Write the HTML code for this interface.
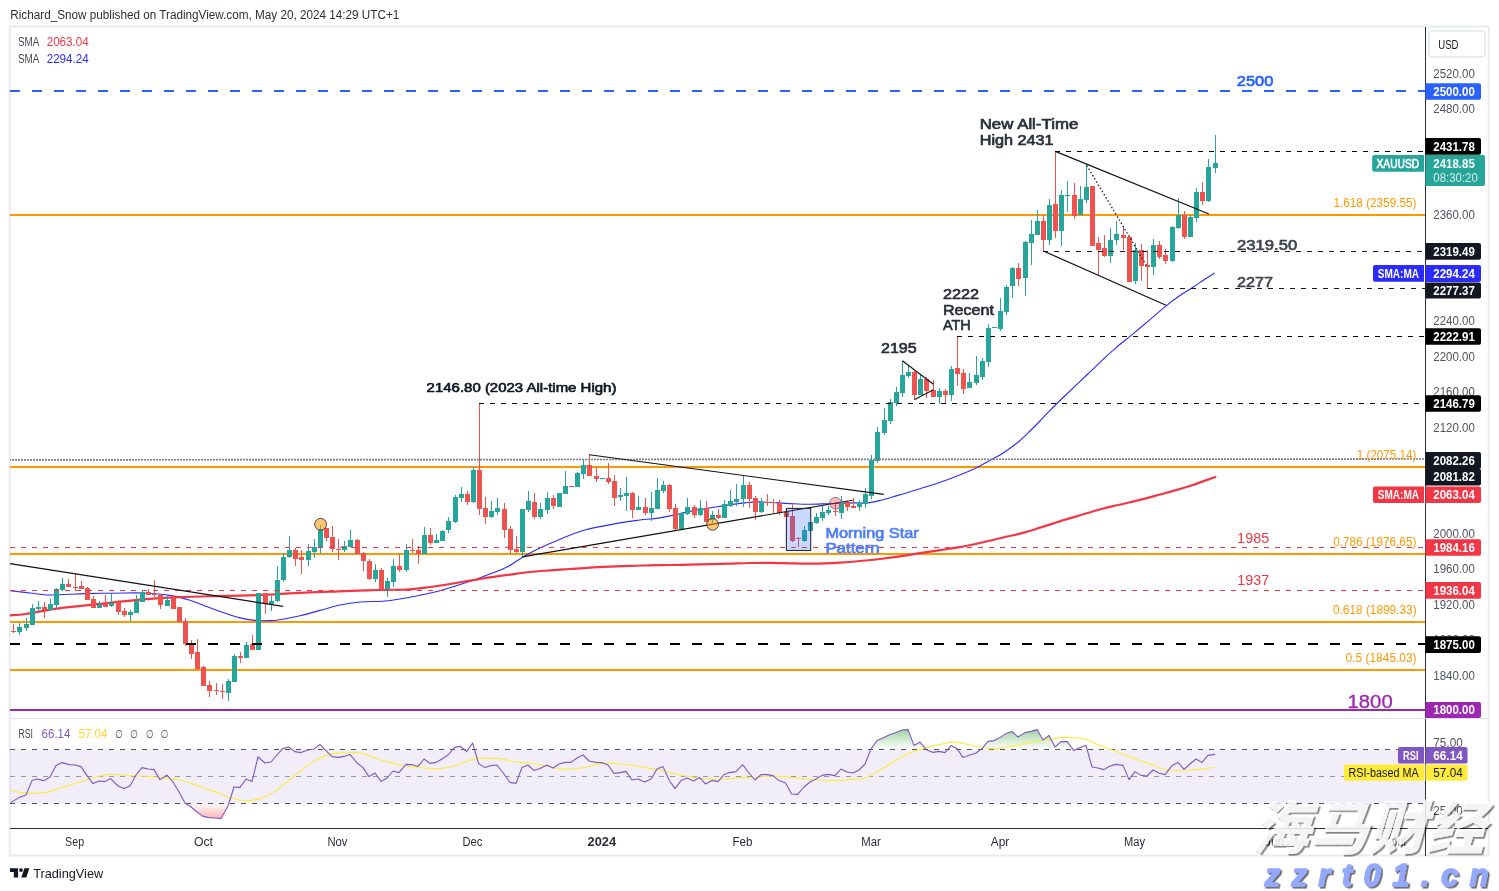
<!DOCTYPE html>
<html lang="en">
<head>
<meta charset="utf-8">
<title>XAUUSD chart - TradingView</title>
<style>
html,body{margin:0;padding:0;background:#fff;}
body{width:1499px;height:891px;overflow:hidden;font-family:'Liberation Sans', sans-serif;}
svg text{white-space:pre;}
</style>
</head>
<body>
<svg width="1499" height="891" viewBox="0 0 1499 891" font-family="'Liberation Sans', sans-serif" style="display:block">
<defs>
<linearGradient id="gOB" x1="0" y1="729" x2="0" y2="749.4" gradientUnits="userSpaceOnUse"><stop offset="0" stop-color="#4caf50" stop-opacity="0.55"/><stop offset="1" stop-color="#4caf50" stop-opacity="0"/></linearGradient>
<linearGradient id="gOS" x1="0" y1="803" x2="0" y2="819" gradientUnits="userSpaceOnUse"><stop offset="0" stop-color="#ff5252" stop-opacity="0"/><stop offset="1" stop-color="#ff5252" stop-opacity="0.45"/></linearGradient>
<clipPath id="cOB"><rect x="10" y="719" width="1415" height="30.4"/></clipPath>
<clipPath id="cOS"><rect x="10" y="803" width="1415" height="25"/></clipPath>
<clipPath id="cMain"><rect x="10" y="27" width="1415" height="691"/></clipPath>
<filter id="wmsh" x="-5%" y="-10%" width="110%" height="130%"><feDropShadow dx="2" dy="2" stdDeviation="1.1" flood-color="#000" flood-opacity="0.55"/></filter>
</defs>
<rect x="0" y="0" width="1499" height="891" fill="#fff"/>
<text x="10.3" y="18.7" font-size="12" font-weight="normal" fill="#2a2e39" text-anchor="start" textLength="389" lengthAdjust="spacingAndGlyphs">Richard_Snow published on TradingView.com, May 20, 2024 14:29 UTC+1</text>
<rect x="9.75" y="26.5" width="1479" height="829" fill="#fff" stroke="#e9ebf2" stroke-width="2"/>
<rect x="10" y="749.5" width="1415" height="54" fill="#7e57c2" fill-opacity="0.1"/>
<g clip-path="url(#cMain)">
<line x1="10" y1="215" x2="1425" y2="215" stroke="#ff9800" stroke-width="2"/>
<line x1="10" y1="467" x2="1425" y2="467" stroke="#ff9800" stroke-width="2"/>
<line x1="10" y1="554" x2="1425" y2="554" stroke="#ff9800" stroke-width="2"/>
<line x1="10" y1="622" x2="1425" y2="622" stroke="#ff9800" stroke-width="2"/>
<line x1="10" y1="670" x2="1425" y2="670" stroke="#ff9800" stroke-width="2"/>
<line x1="10" y1="710" x2="1425" y2="710" stroke="#9c27b0" stroke-width="2"/>
<path d="M10,590.7 C13.33,591.08 23.33,592.28 30,593 C36.67,593.72 43.33,594.8 50,595 C56.67,595.2 64.17,594.43 70,594.2 C75.83,593.97 77.5,593.77 85,593.6 C92.5,593.43 105.33,593.3 115,593.2 C124.67,593.1 133.83,592.63 143,593 C152.17,593.37 162.17,594.2 170,595.4 C177.83,596.6 184.33,598.52 190,600.2 C195.67,601.88 199.33,603.75 204,605.5 C208.67,607.25 212,608.63 218,610.7 C224,612.77 233.83,616.28 240,617.9 C246.17,619.52 250,619.95 255,620.4 C260,620.85 266.17,620.67 270,620.6 C273.83,620.53 273,620.82 278,620 C283,619.18 293,617.3 300,615.7 C307,614.1 313.33,612.18 320,610.4 C326.67,608.62 333.33,606.4 340,605 C346.67,603.6 352.5,602.67 360,602 C367.5,601.33 377.67,601.62 385,601 C392.33,600.38 398.17,599.27 404,598.3 C409.83,597.33 414,596.47 420,595.2 C426,593.93 431,593.23 440,590.7 C449,588.17 465.67,582.78 474,580 C482.33,577.22 484.5,576.17 490,574 C495.5,571.83 500.33,570.52 507,567 C513.67,563.48 521.17,557.52 530,552.9 C538.83,548.28 550.83,543.12 560,539.3 C569.17,535.48 575,532.73 585,530 C595,527.27 610.83,524.57 620,522.9 C629.17,521.23 633.33,520.83 640,520 C646.67,519.17 651.67,519.33 660,517.9 C668.33,516.47 680,513.32 690,511.4 C700,509.48 710.83,507.82 720,506.4 C729.17,504.98 738.33,503.65 745,502.9 C751.67,502.15 752.5,501.78 760,501.9 C767.5,502.02 781.67,503.2 790,503.6 C798.33,504 803.33,504.3 810,504.3 C816.67,504.3 822.67,503.83 830,503.6 C837.33,503.37 847.83,503 854,502.9 C860.17,502.8 862.67,503.4 867,503 C871.33,502.6 875.6,501.55 880,500.5 C884.4,499.45 886.73,498.67 893.4,496.7 C900.07,494.73 911.12,491.5 920,488.7 C928.88,485.9 937.8,483.15 946.7,479.9 C955.6,476.65 966.28,472.4 973.4,469.2 C980.52,466 984.97,463.07 989.4,460.7 C993.83,458.33 996.57,457.07 1000,455 C1003.43,452.93 1006.67,450.72 1010,448.3 C1013.33,445.88 1016.67,443.38 1020,440.5 C1023.33,437.62 1026.67,434.25 1030,431 C1033.33,427.75 1036.82,424.28 1040,421 C1043.18,417.72 1044.72,415.72 1049.1,411.3 C1053.48,406.88 1059.93,400.63 1066.3,394.5 C1072.67,388.37 1080.63,380.85 1087.3,374.5 C1093.97,368.15 1101.53,360.85 1106.3,356.4 C1111.07,351.95 1111.77,351.3 1115.9,347.8 C1120.03,344.3 1125.7,339.85 1131.1,335.4 C1136.5,330.95 1142.57,325.93 1148.3,321.1 C1154.03,316.27 1160.4,310.53 1165.5,306.4 C1170.6,302.27 1174.45,299.42 1178.9,296.3 C1183.35,293.18 1187.75,290.63 1192.2,287.7 C1196.65,284.77 1201.85,281.15 1205.6,278.7 C1209.35,276.25 1213.18,273.95 1214.7,273" fill="none" stroke="#2b2bff" stroke-width="1.1" stroke-linejoin="round"/>
<path d="M10,615.3 C12.67,615.08 18.17,615.12 26,614 C33.83,612.88 44.67,610.28 57,608.6 C69.33,606.92 85.67,605.45 100,603.9 C114.33,602.35 129.67,600.43 143,599.3 C156.33,598.17 168.17,597.63 180,597.1 C191.83,596.57 202.33,596.38 214,596.1 C225.67,595.82 240.67,595.65 250,595.4 C259.33,595.15 261.67,595.02 270,594.6 C278.33,594.18 290,593.4 300,592.9 C310,592.4 322.5,591.9 330,591.6 C337.5,591.3 336.67,591.37 345,591.1 C353.33,590.83 369.17,590.3 380,590 C390.83,589.7 401.67,589.8 410,589.3 C418.33,588.8 423.33,587.88 430,587 C436.67,586.12 443.33,585.07 450,584 C456.67,582.93 463.33,581.7 470,580.6 C476.67,579.5 483.33,578.4 490,577.4 C496.67,576.4 503.33,575.5 510,574.6 C516.67,573.7 523.33,572.7 530,572 C536.67,571.3 543.33,570.9 550,570.4 C556.67,569.9 563.33,569.47 570,569 C576.67,568.53 583.33,568 590,567.6 C596.67,567.2 603.33,566.9 610,566.6 C616.67,566.3 623.33,566 630,565.8 C636.67,565.6 643.33,565.53 650,565.4 C656.67,565.27 663.33,565.13 670,565 C676.67,564.87 683.33,564.73 690,564.6 C696.67,564.47 703.33,564.37 710,564.2 C716.67,564.03 723.33,563.8 730,563.6 C736.67,563.4 743.33,563.12 750,563 C756.67,562.88 763.33,562.85 770,562.9 C776.67,562.95 783.33,563.18 790,563.3 C796.67,563.42 804.17,563.58 810,563.6 C815.83,563.62 820,563.57 825,563.4 C830,563.23 834.17,563 840,562.6 C845.83,562.2 853.33,561.6 860,561 C866.67,560.4 873.33,559.77 880,559 C886.67,558.23 893.33,557.37 900,556.4 C906.67,555.43 913.33,554.25 920,553.2 C926.67,552.15 933.33,551.12 940,550.1 C946.67,549.08 954,548.13 960,547.1 C966,546.07 970.67,545.05 976,543.9 C981.33,542.75 988,541.15 992,540.2 C996,539.25 997.25,538.85 1000,538.2 C1002.75,537.55 1004.4,537.27 1008.5,536.3 C1012.6,535.33 1019.22,533.88 1024.6,532.4 C1029.98,530.92 1035.4,529.1 1040.8,527.4 C1046.2,525.7 1051.63,523.87 1057,522.2 C1062.37,520.53 1069.17,518.55 1073,517.4 C1076.83,516.25 1076.17,516.45 1080,515.3 C1083.83,514.15 1090.67,511.98 1096,510.5 C1101.33,509.02 1106.67,507.68 1112,506.4 C1117.33,505.12 1122.67,504.05 1128,502.8 C1133.33,501.55 1138.67,500.28 1144,498.9 C1149.33,497.52 1154.67,495.97 1160,494.5 C1165.33,493.03 1170.67,491.63 1176,490.1 C1181.33,488.57 1186.67,487.05 1192,485.3 C1197.33,483.55 1204.12,480.98 1208,479.6 C1211.88,478.22 1214.08,477.43 1215.3,477" fill="none" stroke="#f23645" stroke-width="2.2" stroke-linejoin="round" stroke-linecap="round"/>
<g shape-rendering="crispEdges">
<rect x="13" y="624" width="1" height="9" fill="#ef5350"/>
<rect x="11" y="631" width="5" height="1" fill="#ef5350"/>
<rect x="19" y="623" width="1" height="12" fill="#26a69a"/>
<rect x="17" y="627" width="5" height="5" fill="#26a69a"/>
<rect x="26" y="618" width="1" height="13" fill="#26a69a"/>
<rect x="24" y="624" width="5" height="4" fill="#26a69a"/>
<rect x="32" y="604" width="1" height="21" fill="#26a69a"/>
<rect x="30" y="608" width="5" height="17" fill="#26a69a"/>
<rect x="38" y="601" width="1" height="10" fill="#26a69a"/>
<rect x="36" y="607" width="5" height="2" fill="#26a69a"/>
<rect x="44" y="602" width="1" height="16" fill="#ef5350"/>
<rect x="42" y="607" width="5" height="3" fill="#ef5350"/>
<rect x="50" y="599" width="1" height="11" fill="#26a69a"/>
<rect x="48" y="604" width="5" height="6" fill="#26a69a"/>
<rect x="56" y="588" width="1" height="21" fill="#26a69a"/>
<rect x="54" y="589" width="5" height="16" fill="#26a69a"/>
<rect x="62" y="578" width="1" height="13" fill="#26a69a"/>
<rect x="60" y="584" width="5" height="6" fill="#26a69a"/>
<rect x="68" y="579" width="1" height="8" fill="#ef5350"/>
<rect x="66" y="584" width="5" height="3" fill="#ef5350"/>
<rect x="75" y="574" width="1" height="17" fill="#ef5350"/>
<rect x="73" y="587" width="5" height="1" fill="#ef5350"/>
<rect x="81" y="581" width="1" height="8" fill="#ef5350"/>
<rect x="79" y="586" width="5" height="3" fill="#ef5350"/>
<rect x="87" y="587" width="1" height="13" fill="#ef5350"/>
<rect x="85" y="588" width="5" height="12" fill="#ef5350"/>
<rect x="93" y="596" width="1" height="12" fill="#ef5350"/>
<rect x="91" y="599" width="5" height="9" fill="#ef5350"/>
<rect x="99" y="601" width="1" height="7" fill="#26a69a"/>
<rect x="97" y="605" width="5" height="3" fill="#26a69a"/>
<rect x="105" y="595" width="1" height="12" fill="#ef5350"/>
<rect x="103" y="604" width="5" height="3" fill="#ef5350"/>
<rect x="111" y="594" width="1" height="13" fill="#26a69a"/>
<rect x="109" y="603" width="5" height="3" fill="#26a69a"/>
<rect x="118" y="600" width="1" height="15" fill="#ef5350"/>
<rect x="116" y="602" width="5" height="10" fill="#ef5350"/>
<rect x="124" y="608" width="1" height="9" fill="#ef5350"/>
<rect x="122" y="611" width="5" height="4" fill="#ef5350"/>
<rect x="130" y="610" width="1" height="11" fill="#26a69a"/>
<rect x="128" y="612" width="5" height="3" fill="#26a69a"/>
<rect x="136" y="595" width="1" height="18" fill="#26a69a"/>
<rect x="134" y="601" width="5" height="12" fill="#26a69a"/>
<rect x="142" y="591" width="1" height="11" fill="#26a69a"/>
<rect x="140" y="592" width="5" height="10" fill="#26a69a"/>
<rect x="148" y="589" width="1" height="6" fill="#ef5350"/>
<rect x="146" y="592" width="5" height="3" fill="#ef5350"/>
<rect x="154" y="580" width="1" height="17" fill="#ef5350"/>
<rect x="152" y="594" width="5" height="1" fill="#ef5350"/>
<rect x="160" y="594" width="1" height="15" fill="#ef5350"/>
<rect x="158" y="595" width="5" height="10" fill="#ef5350"/>
<rect x="167" y="596" width="1" height="10" fill="#26a69a"/>
<rect x="165" y="600" width="5" height="6" fill="#26a69a"/>
<rect x="173" y="597" width="1" height="12" fill="#ef5350"/>
<rect x="171" y="598" width="5" height="11" fill="#ef5350"/>
<rect x="179" y="607" width="1" height="15" fill="#ef5350"/>
<rect x="177" y="607" width="5" height="15" fill="#ef5350"/>
<rect x="185" y="618" width="1" height="28" fill="#ef5350"/>
<rect x="183" y="621" width="5" height="23" fill="#ef5350"/>
<rect x="191" y="640" width="1" height="19" fill="#ef5350"/>
<rect x="189" y="644" width="5" height="10" fill="#ef5350"/>
<rect x="197" y="639" width="1" height="30" fill="#ef5350"/>
<rect x="195" y="652" width="5" height="17" fill="#ef5350"/>
<rect x="203" y="666" width="1" height="20" fill="#ef5350"/>
<rect x="201" y="667" width="5" height="19" fill="#ef5350"/>
<rect x="209" y="681" width="1" height="16" fill="#ef5350"/>
<rect x="207" y="685" width="5" height="6" fill="#ef5350"/>
<rect x="216" y="683" width="1" height="12" fill="#ef5350"/>
<rect x="214" y="690" width="5" height="1" fill="#ef5350"/>
<rect x="222" y="684" width="1" height="15" fill="#ef5350"/>
<rect x="220" y="691" width="5" height="1" fill="#ef5350"/>
<rect x="228" y="679" width="1" height="22" fill="#26a69a"/>
<rect x="226" y="681" width="5" height="12" fill="#26a69a"/>
<rect x="234" y="654" width="1" height="28" fill="#26a69a"/>
<rect x="232" y="656" width="5" height="26" fill="#26a69a"/>
<rect x="240" y="652" width="1" height="11" fill="#ef5350"/>
<rect x="238" y="656" width="5" height="2" fill="#ef5350"/>
<rect x="246" y="642" width="1" height="16" fill="#26a69a"/>
<rect x="244" y="645" width="5" height="13" fill="#26a69a"/>
<rect x="252" y="635" width="1" height="15" fill="#ef5350"/>
<rect x="250" y="644" width="5" height="6" fill="#ef5350"/>
<rect x="258" y="593" width="1" height="57" fill="#26a69a"/>
<rect x="256" y="593" width="5" height="57" fill="#26a69a"/>
<rect x="265" y="593" width="1" height="21" fill="#ef5350"/>
<rect x="263" y="593" width="5" height="11" fill="#ef5350"/>
<rect x="271" y="596" width="1" height="15" fill="#26a69a"/>
<rect x="269" y="601" width="5" height="3" fill="#26a69a"/>
<rect x="277" y="566" width="1" height="36" fill="#26a69a"/>
<rect x="275" y="580" width="5" height="21" fill="#26a69a"/>
<rect x="283" y="553" width="1" height="29" fill="#26a69a"/>
<rect x="281" y="557" width="5" height="23" fill="#26a69a"/>
<rect x="289" y="536" width="1" height="22" fill="#26a69a"/>
<rect x="287" y="550" width="5" height="7" fill="#26a69a"/>
<rect x="295" y="548" width="1" height="18" fill="#ef5350"/>
<rect x="293" y="550" width="5" height="9" fill="#ef5350"/>
<rect x="301" y="550" width="1" height="24" fill="#ef5350"/>
<rect x="299" y="557" width="5" height="3" fill="#ef5350"/>
<rect x="308" y="544" width="1" height="22" fill="#26a69a"/>
<rect x="306" y="551" width="5" height="9" fill="#26a69a"/>
<rect x="314" y="539" width="1" height="19" fill="#26a69a"/>
<rect x="312" y="547" width="5" height="5" fill="#26a69a"/>
<rect x="320" y="525" width="1" height="29" fill="#26a69a"/>
<rect x="318" y="529" width="5" height="18" fill="#26a69a"/>
<rect x="326" y="528" width="1" height="13" fill="#ef5350"/>
<rect x="324" y="528" width="5" height="10" fill="#ef5350"/>
<rect x="332" y="526" width="1" height="26" fill="#ef5350"/>
<rect x="330" y="537" width="5" height="12" fill="#ef5350"/>
<rect x="338" y="539" width="1" height="21" fill="#ef5350"/>
<rect x="336" y="549" width="5" height="1" fill="#ef5350"/>
<rect x="344" y="541" width="1" height="11" fill="#26a69a"/>
<rect x="342" y="546" width="5" height="4" fill="#26a69a"/>
<rect x="350" y="530" width="1" height="17" fill="#26a69a"/>
<rect x="348" y="540" width="5" height="7" fill="#26a69a"/>
<rect x="357" y="539" width="1" height="15" fill="#ef5350"/>
<rect x="355" y="540" width="5" height="14" fill="#ef5350"/>
<rect x="363" y="552" width="1" height="19" fill="#ef5350"/>
<rect x="361" y="553" width="5" height="8" fill="#ef5350"/>
<rect x="369" y="559" width="1" height="21" fill="#ef5350"/>
<rect x="367" y="561" width="5" height="18" fill="#ef5350"/>
<rect x="375" y="564" width="1" height="18" fill="#26a69a"/>
<rect x="373" y="570" width="5" height="9" fill="#26a69a"/>
<rect x="381" y="568" width="1" height="23" fill="#ef5350"/>
<rect x="379" y="570" width="5" height="19" fill="#ef5350"/>
<rect x="387" y="578" width="1" height="19" fill="#26a69a"/>
<rect x="385" y="581" width="5" height="8" fill="#26a69a"/>
<rect x="393" y="559" width="1" height="28" fill="#26a69a"/>
<rect x="391" y="566" width="5" height="16" fill="#26a69a"/>
<rect x="399" y="554" width="1" height="18" fill="#ef5350"/>
<rect x="397" y="566" width="5" height="4" fill="#ef5350"/>
<rect x="406" y="544" width="1" height="28" fill="#26a69a"/>
<rect x="404" y="550" width="5" height="20" fill="#26a69a"/>
<rect x="412" y="539" width="1" height="14" fill="#ef5350"/>
<rect x="410" y="550" width="5" height="1" fill="#ef5350"/>
<rect x="418" y="546" width="1" height="18" fill="#ef5350"/>
<rect x="416" y="550" width="5" height="4" fill="#ef5350"/>
<rect x="424" y="527" width="1" height="27" fill="#26a69a"/>
<rect x="422" y="535" width="5" height="19" fill="#26a69a"/>
<rect x="430" y="528" width="1" height="17" fill="#ef5350"/>
<rect x="428" y="535" width="5" height="8" fill="#ef5350"/>
<rect x="436" y="534" width="1" height="9" fill="#26a69a"/>
<rect x="434" y="540" width="5" height="3" fill="#26a69a"/>
<rect x="442" y="530" width="1" height="11" fill="#26a69a"/>
<rect x="440" y="531" width="5" height="10" fill="#26a69a"/>
<rect x="448" y="517" width="1" height="16" fill="#26a69a"/>
<rect x="446" y="521" width="5" height="9" fill="#26a69a"/>
<rect x="455" y="495" width="1" height="28" fill="#26a69a"/>
<rect x="453" y="497" width="5" height="25" fill="#26a69a"/>
<rect x="461" y="487" width="1" height="15" fill="#26a69a"/>
<rect x="459" y="494" width="5" height="4" fill="#26a69a"/>
<rect x="467" y="491" width="1" height="14" fill="#ef5350"/>
<rect x="465" y="494" width="5" height="8" fill="#ef5350"/>
<rect x="473" y="466" width="1" height="37" fill="#26a69a"/>
<rect x="471" y="470" width="5" height="32" fill="#26a69a"/>
<rect x="479" y="403" width="1" height="112" fill="#ef5350"/>
<rect x="477" y="470" width="5" height="39" fill="#ef5350"/>
<rect x="485" y="497" width="1" height="27" fill="#ef5350"/>
<rect x="483" y="508" width="5" height="9" fill="#ef5350"/>
<rect x="491" y="501" width="1" height="17" fill="#26a69a"/>
<rect x="489" y="511" width="5" height="6" fill="#26a69a"/>
<rect x="497" y="498" width="1" height="17" fill="#26a69a"/>
<rect x="495" y="508" width="5" height="4" fill="#26a69a"/>
<rect x="504" y="503" width="1" height="35" fill="#ef5350"/>
<rect x="502" y="509" width="5" height="21" fill="#ef5350"/>
<rect x="510" y="526" width="1" height="28" fill="#ef5350"/>
<rect x="508" y="529" width="5" height="21" fill="#ef5350"/>
<rect x="516" y="536" width="1" height="17" fill="#ef5350"/>
<rect x="514" y="549" width="5" height="3" fill="#ef5350"/>
<rect x="522" y="509" width="1" height="48" fill="#26a69a"/>
<rect x="520" y="509" width="5" height="43" fill="#26a69a"/>
<rect x="528" y="491" width="1" height="21" fill="#26a69a"/>
<rect x="526" y="501" width="5" height="9" fill="#26a69a"/>
<rect x="534" y="493" width="1" height="26" fill="#ef5350"/>
<rect x="532" y="502" width="5" height="15" fill="#ef5350"/>
<rect x="540" y="503" width="1" height="16" fill="#26a69a"/>
<rect x="538" y="509" width="5" height="8" fill="#26a69a"/>
<rect x="547" y="492" width="1" height="22" fill="#26a69a"/>
<rect x="545" y="498" width="5" height="12" fill="#26a69a"/>
<rect x="553" y="495" width="1" height="14" fill="#ef5350"/>
<rect x="551" y="498" width="5" height="8" fill="#ef5350"/>
<rect x="559" y="493" width="1" height="14" fill="#26a69a"/>
<rect x="557" y="493" width="5" height="14" fill="#26a69a"/>
<rect x="565" y="471" width="1" height="23" fill="#26a69a"/>
<rect x="563" y="486" width="5" height="8" fill="#26a69a"/>
<rect x="571" y="486" width="1" height="1" fill="#ef5350"/>
<rect x="569" y="486" width="5" height="1" fill="#ef5350"/>
<rect x="577" y="472" width="1" height="15" fill="#26a69a"/>
<rect x="575" y="473" width="5" height="14" fill="#26a69a"/>
<rect x="583" y="459" width="1" height="20" fill="#26a69a"/>
<rect x="581" y="465" width="5" height="9" fill="#26a69a"/>
<rect x="589" y="454" width="1" height="22" fill="#ef5350"/>
<rect x="587" y="465" width="5" height="11" fill="#ef5350"/>
<rect x="596" y="467" width="1" height="15" fill="#ef5350"/>
<rect x="594" y="476" width="5" height="3" fill="#ef5350"/>
<rect x="602" y="478" width="1" height="1" fill="#26a69a"/>
<rect x="600" y="478" width="5" height="1" fill="#26a69a"/>
<rect x="608" y="463" width="1" height="21" fill="#ef5350"/>
<rect x="606" y="478" width="5" height="4" fill="#ef5350"/>
<rect x="614" y="475" width="1" height="31" fill="#ef5350"/>
<rect x="612" y="481" width="5" height="17" fill="#ef5350"/>
<rect x="620" y="488" width="1" height="13" fill="#26a69a"/>
<rect x="618" y="495" width="5" height="2" fill="#26a69a"/>
<rect x="626" y="477" width="1" height="34" fill="#26a69a"/>
<rect x="624" y="493" width="5" height="3" fill="#26a69a"/>
<rect x="632" y="492" width="1" height="26" fill="#ef5350"/>
<rect x="630" y="493" width="5" height="17" fill="#ef5350"/>
<rect x="638" y="496" width="1" height="14" fill="#26a69a"/>
<rect x="636" y="507" width="5" height="3" fill="#26a69a"/>
<rect x="645" y="498" width="1" height="17" fill="#ef5350"/>
<rect x="643" y="507" width="5" height="6" fill="#ef5350"/>
<rect x="651" y="492" width="1" height="29" fill="#26a69a"/>
<rect x="649" y="508" width="5" height="5" fill="#26a69a"/>
<rect x="657" y="478" width="1" height="31" fill="#26a69a"/>
<rect x="655" y="490" width="5" height="19" fill="#26a69a"/>
<rect x="663" y="481" width="1" height="12" fill="#26a69a"/>
<rect x="661" y="485" width="5" height="6" fill="#26a69a"/>
<rect x="669" y="484" width="1" height="28" fill="#ef5350"/>
<rect x="667" y="485" width="5" height="24" fill="#ef5350"/>
<rect x="675" y="504" width="1" height="27" fill="#ef5350"/>
<rect x="673" y="508" width="5" height="21" fill="#ef5350"/>
<rect x="681" y="513" width="1" height="16" fill="#26a69a"/>
<rect x="679" y="513" width="5" height="16" fill="#26a69a"/>
<rect x="687" y="498" width="1" height="17" fill="#26a69a"/>
<rect x="685" y="507" width="5" height="7" fill="#26a69a"/>
<rect x="694" y="505" width="1" height="13" fill="#ef5350"/>
<rect x="692" y="507" width="5" height="8" fill="#ef5350"/>
<rect x="700" y="500" width="1" height="16" fill="#26a69a"/>
<rect x="698" y="508" width="5" height="7" fill="#26a69a"/>
<rect x="706" y="501" width="1" height="21" fill="#ef5350"/>
<rect x="704" y="508" width="5" height="14" fill="#ef5350"/>
<rect x="712" y="511" width="1" height="12" fill="#26a69a"/>
<rect x="710" y="515" width="5" height="5" fill="#26a69a"/>
<rect x="718" y="509" width="1" height="10" fill="#ef5350"/>
<rect x="716" y="515" width="5" height="3" fill="#ef5350"/>
<rect x="724" y="500" width="1" height="18" fill="#26a69a"/>
<rect x="722" y="504" width="5" height="14" fill="#26a69a"/>
<rect x="730" y="490" width="1" height="17" fill="#26a69a"/>
<rect x="728" y="501" width="5" height="5" fill="#26a69a"/>
<rect x="736" y="484" width="1" height="22" fill="#26a69a"/>
<rect x="734" y="499" width="5" height="3" fill="#26a69a"/>
<rect x="743" y="476" width="1" height="31" fill="#26a69a"/>
<rect x="741" y="485" width="5" height="14" fill="#26a69a"/>
<rect x="749" y="482" width="1" height="26" fill="#ef5350"/>
<rect x="747" y="485" width="5" height="14" fill="#ef5350"/>
<rect x="755" y="496" width="1" height="24" fill="#ef5350"/>
<rect x="753" y="498" width="5" height="14" fill="#ef5350"/>
<rect x="761" y="498" width="1" height="15" fill="#26a69a"/>
<rect x="759" y="502" width="5" height="10" fill="#26a69a"/>
<rect x="767" y="494" width="1" height="12" fill="#ef5350"/>
<rect x="765" y="502" width="5" height="1" fill="#ef5350"/>
<rect x="773" y="499" width="1" height="14" fill="#ef5350"/>
<rect x="771" y="502" width="5" height="1" fill="#ef5350"/>
<rect x="779" y="500" width="1" height="15" fill="#ef5350"/>
<rect x="777" y="503" width="5" height="10" fill="#ef5350"/>
<rect x="786" y="511" width="1" height="6" fill="#ef5350"/>
<rect x="784" y="512" width="5" height="5" fill="#ef5350"/>
<rect x="792" y="504" width="1" height="38" fill="#ef5350"/>
<rect x="790" y="516" width="5" height="25" fill="#ef5350"/>
<rect x="798" y="537" width="1" height="10" fill="#ef5350"/>
<rect x="796" y="538" width="5" height="1" fill="#ef5350"/>
<rect x="804" y="526" width="1" height="16" fill="#26a69a"/>
<rect x="802" y="530" width="5" height="11" fill="#26a69a"/>
<rect x="810" y="522" width="1" height="9" fill="#26a69a"/>
<rect x="808" y="522" width="5" height="9" fill="#26a69a"/>
<rect x="816" y="513" width="1" height="11" fill="#26a69a"/>
<rect x="814" y="517" width="5" height="6" fill="#26a69a"/>
<rect x="822" y="506" width="1" height="15" fill="#26a69a"/>
<rect x="820" y="512" width="5" height="6" fill="#26a69a"/>
<rect x="828" y="506" width="1" height="9" fill="#26a69a"/>
<rect x="826" y="510" width="5" height="3" fill="#26a69a"/>
<rect x="835" y="502" width="1" height="14" fill="#ef5350"/>
<rect x="833" y="511" width="5" height="1" fill="#ef5350"/>
<rect x="841" y="496" width="1" height="23" fill="#26a69a"/>
<rect x="839" y="503" width="5" height="10" fill="#26a69a"/>
<rect x="847" y="501" width="1" height="10" fill="#ef5350"/>
<rect x="845" y="502" width="5" height="5" fill="#ef5350"/>
<rect x="853" y="498" width="1" height="10" fill="#ef5350"/>
<rect x="851" y="506" width="5" height="2" fill="#ef5350"/>
<rect x="859" y="500" width="1" height="11" fill="#26a69a"/>
<rect x="857" y="503" width="5" height="4" fill="#26a69a"/>
<rect x="865" y="488" width="1" height="20" fill="#26a69a"/>
<rect x="863" y="494" width="5" height="10" fill="#26a69a"/>
<rect x="871" y="455" width="1" height="44" fill="#26a69a"/>
<rect x="869" y="460" width="5" height="36" fill="#26a69a"/>
<rect x="877" y="427" width="1" height="36" fill="#26a69a"/>
<rect x="875" y="432" width="5" height="29" fill="#26a69a"/>
<rect x="884" y="408" width="1" height="27" fill="#26a69a"/>
<rect x="882" y="420" width="5" height="13" fill="#26a69a"/>
<rect x="890" y="399" width="1" height="25" fill="#26a69a"/>
<rect x="888" y="402" width="5" height="19" fill="#26a69a"/>
<rect x="896" y="387" width="1" height="19" fill="#26a69a"/>
<rect x="894" y="392" width="5" height="11" fill="#26a69a"/>
<rect x="902" y="361" width="1" height="36" fill="#26a69a"/>
<rect x="900" y="375" width="5" height="18" fill="#26a69a"/>
<rect x="908" y="366" width="1" height="12" fill="#26a69a"/>
<rect x="906" y="372" width="5" height="4" fill="#26a69a"/>
<rect x="914" y="371" width="1" height="28" fill="#ef5350"/>
<rect x="912" y="372" width="5" height="23" fill="#ef5350"/>
<rect x="920" y="375" width="1" height="20" fill="#26a69a"/>
<rect x="918" y="379" width="5" height="16" fill="#26a69a"/>
<rect x="926" y="377" width="1" height="21" fill="#ef5350"/>
<rect x="924" y="379" width="5" height="12" fill="#ef5350"/>
<rect x="933" y="380" width="1" height="17" fill="#ef5350"/>
<rect x="931" y="390" width="5" height="7" fill="#ef5350"/>
<rect x="939" y="388" width="1" height="16" fill="#26a69a"/>
<rect x="937" y="391" width="5" height="6" fill="#26a69a"/>
<rect x="945" y="389" width="1" height="14" fill="#ef5350"/>
<rect x="943" y="391" width="5" height="4" fill="#ef5350"/>
<rect x="951" y="366" width="1" height="35" fill="#26a69a"/>
<rect x="949" y="369" width="5" height="26" fill="#26a69a"/>
<rect x="957" y="337" width="1" height="49" fill="#ef5350"/>
<rect x="955" y="368" width="5" height="6" fill="#ef5350"/>
<rect x="963" y="369" width="1" height="25" fill="#ef5350"/>
<rect x="961" y="373" width="5" height="16" fill="#ef5350"/>
<rect x="969" y="373" width="1" height="15" fill="#26a69a"/>
<rect x="967" y="382" width="5" height="6" fill="#26a69a"/>
<rect x="976" y="356" width="1" height="29" fill="#26a69a"/>
<rect x="974" y="375" width="5" height="8" fill="#26a69a"/>
<rect x="982" y="358" width="1" height="22" fill="#26a69a"/>
<rect x="980" y="361" width="5" height="16" fill="#26a69a"/>
<rect x="988" y="324" width="1" height="43" fill="#26a69a"/>
<rect x="986" y="328" width="5" height="34" fill="#26a69a"/>
<rect x="994" y="327" width="1" height="1" fill="#26a69a"/>
<rect x="992" y="327" width="5" height="1" fill="#26a69a"/>
<rect x="1000" y="298" width="1" height="33" fill="#26a69a"/>
<rect x="998" y="311" width="5" height="18" fill="#26a69a"/>
<rect x="1006" y="285" width="1" height="30" fill="#26a69a"/>
<rect x="1004" y="287" width="5" height="25" fill="#26a69a"/>
<rect x="1012" y="267" width="1" height="31" fill="#26a69a"/>
<rect x="1010" y="268" width="5" height="18" fill="#26a69a"/>
<rect x="1018" y="263" width="1" height="23" fill="#ef5350"/>
<rect x="1016" y="268" width="5" height="11" fill="#ef5350"/>
<rect x="1025" y="241" width="1" height="55" fill="#26a69a"/>
<rect x="1023" y="242" width="5" height="36" fill="#26a69a"/>
<rect x="1031" y="220" width="1" height="45" fill="#26a69a"/>
<rect x="1029" y="234" width="5" height="9" fill="#26a69a"/>
<rect x="1037" y="210" width="1" height="25" fill="#26a69a"/>
<rect x="1035" y="221" width="5" height="14" fill="#26a69a"/>
<rect x="1043" y="215" width="1" height="36" fill="#ef5350"/>
<rect x="1041" y="221" width="5" height="19" fill="#ef5350"/>
<rect x="1049" y="199" width="1" height="46" fill="#26a69a"/>
<rect x="1047" y="205" width="5" height="35" fill="#26a69a"/>
<rect x="1055" y="151" width="1" height="87" fill="#ef5350"/>
<rect x="1053" y="204" width="5" height="27" fill="#ef5350"/>
<rect x="1061" y="190" width="1" height="56" fill="#26a69a"/>
<rect x="1059" y="195" width="5" height="36" fill="#26a69a"/>
<rect x="1067" y="181" width="1" height="31" fill="#26a69a"/>
<rect x="1065" y="195" width="5" height="1" fill="#26a69a"/>
<rect x="1074" y="183" width="1" height="36" fill="#ef5350"/>
<rect x="1072" y="195" width="5" height="21" fill="#ef5350"/>
<rect x="1080" y="186" width="1" height="29" fill="#26a69a"/>
<rect x="1078" y="199" width="5" height="16" fill="#26a69a"/>
<rect x="1086" y="164" width="1" height="39" fill="#26a69a"/>
<rect x="1084" y="187" width="5" height="13" fill="#26a69a"/>
<rect x="1092" y="186" width="1" height="60" fill="#ef5350"/>
<rect x="1090" y="186" width="5" height="60" fill="#ef5350"/>
<rect x="1098" y="237" width="1" height="38" fill="#ef5350"/>
<rect x="1096" y="243" width="5" height="7" fill="#ef5350"/>
<rect x="1104" y="235" width="1" height="22" fill="#ef5350"/>
<rect x="1102" y="248" width="5" height="8" fill="#ef5350"/>
<rect x="1110" y="228" width="1" height="35" fill="#26a69a"/>
<rect x="1108" y="240" width="5" height="16" fill="#26a69a"/>
<rect x="1116" y="221" width="1" height="24" fill="#26a69a"/>
<rect x="1114" y="234" width="5" height="6" fill="#26a69a"/>
<rect x="1123" y="226" width="1" height="24" fill="#ef5350"/>
<rect x="1121" y="235" width="5" height="3" fill="#ef5350"/>
<rect x="1129" y="236" width="1" height="46" fill="#ef5350"/>
<rect x="1127" y="237" width="5" height="45" fill="#ef5350"/>
<rect x="1135" y="243" width="1" height="41" fill="#26a69a"/>
<rect x="1133" y="250" width="5" height="31" fill="#26a69a"/>
<rect x="1141" y="244" width="1" height="37" fill="#ef5350"/>
<rect x="1139" y="250" width="5" height="16" fill="#ef5350"/>
<rect x="1147" y="250" width="1" height="38" fill="#ef5350"/>
<rect x="1145" y="265" width="5" height="2" fill="#ef5350"/>
<rect x="1153" y="239" width="1" height="36" fill="#26a69a"/>
<rect x="1151" y="245" width="5" height="22" fill="#26a69a"/>
<rect x="1159" y="241" width="1" height="18" fill="#ef5350"/>
<rect x="1157" y="245" width="5" height="12" fill="#ef5350"/>
<rect x="1165" y="249" width="1" height="15" fill="#ef5350"/>
<rect x="1163" y="255" width="5" height="6" fill="#ef5350"/>
<rect x="1172" y="226" width="1" height="36" fill="#26a69a"/>
<rect x="1170" y="227" width="5" height="34" fill="#26a69a"/>
<rect x="1178" y="198" width="1" height="31" fill="#26a69a"/>
<rect x="1176" y="215" width="5" height="13" fill="#26a69a"/>
<rect x="1184" y="211" width="1" height="28" fill="#ef5350"/>
<rect x="1182" y="215" width="5" height="22" fill="#ef5350"/>
<rect x="1190" y="215" width="1" height="22" fill="#26a69a"/>
<rect x="1188" y="217" width="5" height="20" fill="#26a69a"/>
<rect x="1196" y="188" width="1" height="34" fill="#26a69a"/>
<rect x="1194" y="192" width="5" height="26" fill="#26a69a"/>
<rect x="1202" y="182" width="1" height="23" fill="#ef5350"/>
<rect x="1200" y="192" width="5" height="9" fill="#ef5350"/>
<rect x="1208" y="159" width="1" height="43" fill="#26a69a"/>
<rect x="1206" y="167" width="5" height="34" fill="#26a69a"/>
<rect x="1215" y="135" width="1" height="38" fill="#26a69a"/>
<rect x="1213" y="163" width="5" height="5" fill="#26a69a"/>
</g>
<line x1="9" y1="459.85" x2="1425" y2="459" stroke="#7b7e88" stroke-width="1.7" stroke-dasharray="2 1"/>
<line x1="10" y1="547.5" x2="1425" y2="547.5" stroke="#f23645" stroke-width="1" stroke-dasharray="5 6"/>
<line x1="10" y1="590.5" x2="1425" y2="590.5" stroke="#f23645" stroke-width="1" stroke-dasharray="5 6"/>
<line x1="1055" y1="151.5" x2="1425" y2="151.5" stroke="#000" stroke-width="1" stroke-dasharray="5 6"/>
<line x1="1043" y1="251.5" x2="1425" y2="251.5" stroke="#131722" stroke-width="1" stroke-dasharray="5 6"/>
<line x1="1147" y1="288.5" x2="1425" y2="288.5" stroke="#131722" stroke-width="1" stroke-dasharray="5 6"/>
<line x1="957" y1="336.5" x2="1425" y2="336.5" stroke="#000" stroke-width="1" stroke-dasharray="5 6"/>
<line x1="479" y1="403.5" x2="1425" y2="403.5" stroke="#000" stroke-width="1" stroke-dasharray="5 6"/>
<line x1="10" y1="91" x2="1425" y2="91" stroke="#2962ff" stroke-width="2" stroke-dasharray="10 12"/>
<line x1="10" y1="644" x2="1425" y2="644" stroke="#000" stroke-width="2" stroke-dasharray="10 12"/>
<line x1="10" y1="563.6" x2="283.1" y2="606.4" stroke="#111" stroke-width="1.1"/>
<line x1="589.4" y1="454.7" x2="883.8" y2="494.4" stroke="#111" stroke-width="1.1"/>
<line x1="522.4" y1="556.9" x2="852.7" y2="500.2" stroke="#111" stroke-width="1.1"/>
<line x1="902.4" y1="360.7" x2="933.4" y2="384.3" stroke="#111" stroke-width="1.1"/>
<line x1="914.3" y1="399.7" x2="933.4" y2="389.7" stroke="#111" stroke-width="1.1"/>
<line x1="1055.4" y1="151.4" x2="1208.9" y2="214" stroke="#111" stroke-width="1.2"/>
<line x1="1043.4" y1="251" x2="1166" y2="305.3" stroke="#111" stroke-width="1.2"/>
<line x1="1086.8" y1="165.5" x2="1146.4" y2="265.3" stroke="#222" stroke-width="1.3" stroke-dasharray="1.5 2.2"/>
<rect x="786.4" y="508.4" width="24.3" height="42.1" fill="#2962ff" fill-opacity="0.25" stroke="#2a2e39" stroke-width="1.1"/>
<circle cx="320.6" cy="524.3" r="5.9" fill="#ff9800" fill-opacity="0.55" stroke="#434651" stroke-width="1"/>
<circle cx="712.6" cy="524.3" r="5.9" fill="#ff9800" fill-opacity="0.55" stroke="#434651" stroke-width="1"/>
<circle cx="835.5" cy="503.2" r="5.9" fill="#f23645" fill-opacity="0.35" stroke="#787b86" stroke-width="1"/>
<text x="426.6" y="391.6" font-size="13" font-weight="normal" fill="#131722" text-anchor="start" textLength="189.8" lengthAdjust="spacingAndGlyphs" stroke="#131722" stroke-width="0.65" stroke-linejoin="round">2146.80 (2023 All-time High)</text>
<text x="881" y="353.3" font-size="14" font-weight="normal" fill="#2a2e39" text-anchor="start" textLength="35.7" lengthAdjust="spacingAndGlyphs" stroke="#2a2e39" stroke-width="0.65" stroke-linejoin="round">2195</text>
<text x="942.9" y="298.6" font-size="14" font-weight="normal" fill="#2a2e39" text-anchor="start" textLength="36.1" lengthAdjust="spacingAndGlyphs" stroke="#2a2e39" stroke-width="0.65" stroke-linejoin="round">2222</text>
<text x="942.9" y="314.6" font-size="14" font-weight="normal" fill="#2a2e39" text-anchor="start" textLength="51" lengthAdjust="spacingAndGlyphs" stroke="#2a2e39" stroke-width="0.65" stroke-linejoin="round">Recent</text>
<text x="942.9" y="330.3" font-size="14" font-weight="normal" fill="#2a2e39" text-anchor="start" textLength="27.9" lengthAdjust="spacingAndGlyphs" stroke="#2a2e39" stroke-width="0.65" stroke-linejoin="round">ATH</text>
<text x="979.7" y="128.6" font-size="14" font-weight="normal" fill="#2a2e39" text-anchor="start" textLength="98.6" lengthAdjust="spacingAndGlyphs" stroke="#2a2e39" stroke-width="0.65" stroke-linejoin="round">New All-Time</text>
<text x="979.7" y="144.6" font-size="14" font-weight="normal" fill="#2a2e39" text-anchor="start" textLength="73.9" lengthAdjust="spacingAndGlyphs" stroke="#2a2e39" stroke-width="0.65" stroke-linejoin="round">High 2431</text>
<text x="1236.8" y="86.4" font-size="14.5" font-weight="normal" fill="#2962ff" text-anchor="start" textLength="36.5" lengthAdjust="spacingAndGlyphs" stroke="#2962ff" stroke-width="0.65" stroke-linejoin="round">2500</text>
<text x="1237.1" y="249.6" font-size="14" font-weight="normal" fill="#434651" text-anchor="start" textLength="60.1" lengthAdjust="spacingAndGlyphs" stroke="#434651" stroke-width="0.65" stroke-linejoin="round">2319.50</text>
<text x="1237.1" y="286.8" font-size="14" font-weight="normal" fill="#434651" text-anchor="start" textLength="36" lengthAdjust="spacingAndGlyphs" stroke="#434651" stroke-width="0.65" stroke-linejoin="round">2277</text>
<text x="1237.1" y="542.9" font-size="14" font-weight="normal" fill="#f23645" text-anchor="start" textLength="32.2" lengthAdjust="spacingAndGlyphs">1985</text>
<text x="1237.2" y="585.4" font-size="14" font-weight="normal" fill="#f23645" text-anchor="start" textLength="32" lengthAdjust="spacingAndGlyphs">1937</text>
<text x="1347.5" y="707.9" font-size="17.5" font-weight="normal" fill="#9c27b0" text-anchor="start" textLength="45.2" lengthAdjust="spacingAndGlyphs" stroke="#9c27b0" stroke-width="0.3">1800</text>
<text x="825.4" y="538" font-size="14" font-weight="normal" fill="#4c7dff" text-anchor="start" textLength="93.4" lengthAdjust="spacingAndGlyphs" stroke="#4c7dff" stroke-width="0.65" stroke-linejoin="round">Morning Star</text>
<text x="825.4" y="553.4" font-size="14" font-weight="normal" fill="#4c7dff" text-anchor="start" textLength="54.3" lengthAdjust="spacingAndGlyphs" stroke="#4c7dff" stroke-width="0.65" stroke-linejoin="round">Pattern</text>
<text x="1333.5" y="207.1" font-size="12" font-weight="normal" fill="#ff9800" text-anchor="start" textLength="82.9" lengthAdjust="spacingAndGlyphs">1.618 (2359.55)</text>
<text x="1356.8" y="458.6" font-size="12" font-weight="normal" fill="#ff9800" text-anchor="start" textLength="59.6" lengthAdjust="spacingAndGlyphs">1 (2075.14)</text>
<text x="1333.2" y="546.1" font-size="12" font-weight="normal" fill="#ff9800" text-anchor="start" textLength="83.2" lengthAdjust="spacingAndGlyphs">0.786 (1976.65)</text>
<text x="1333" y="614.1" font-size="12" font-weight="normal" fill="#ff9800" text-anchor="start" textLength="83.6" lengthAdjust="spacingAndGlyphs">0.618 (1899.33)</text>
<text x="1345.6" y="661.8" font-size="12" font-weight="normal" fill="#ff9800" text-anchor="start" textLength="71" lengthAdjust="spacingAndGlyphs">0.5 (1845.03)</text>
</g>
<text x="18" y="46" font-size="12" font-weight="normal" fill="#434651" text-anchor="start" textLength="21.4" lengthAdjust="spacingAndGlyphs">SMA</text>
<text x="46.7" y="46" font-size="12" font-weight="normal" fill="#f23645" text-anchor="start" textLength="42" lengthAdjust="spacingAndGlyphs">2063.04</text>
<text x="18" y="62.8" font-size="12" font-weight="normal" fill="#434651" text-anchor="start" textLength="21.4" lengthAdjust="spacingAndGlyphs">SMA</text>
<text x="46.7" y="62.8" font-size="12" font-weight="normal" fill="#2b2bff" text-anchor="start" textLength="42" lengthAdjust="spacingAndGlyphs">2294.24</text>
<line x1="10" y1="749.5" x2="1425" y2="749.5" stroke="#50535e" stroke-width="1" stroke-dasharray="5 6"/>
<line x1="10" y1="776.5" x2="1425" y2="776.5" stroke="#9598a1" stroke-width="1" stroke-dasharray="5 6"/>
<line x1="10" y1="803.5" x2="1425" y2="803.5" stroke="#50535e" stroke-width="1" stroke-dasharray="5 6"/>
<polygon points="11,802.4 19,797.6 26,795 32,780.6 37,779 44,780.6 50,777 56,765.6 62,762.6 69,764.6 75,765 81,766.6 87,775.6 93,783.6 99,781 105,781.6 110.6,778.6 118,786 124,788.6 130,786 136,775 142,767.6 148,769 154,769.6 160,779.6 167,775 173,782 179,792 185,803 191,807 197,812 203,816.4 209,817.6 215,818 221,818.6 228,806 234,787 240,787.4 246,779 252,781.6 258,757 265,763 271,762 277,755 282.6,748.6 288.6,747 295,751.6 301,752.6 308,750 314,749 320,744.4 326,750.6 332,756.6 338,757.4 344,756.4 350,754.4 357,763 363,767.6 369,776.6 375,773 381,781.4 387,778 393,771 399,772.6 406,764.4 412,764.6 418,766.6 424,759 430,763.4 436,762.4 442,759 448,755 454.6,747.4 460.6,746.4 466.6,751.6 472.6,743 478.6,763.6 485,767.6 491,765.6 497,765 504,774 510,782.4 516,783.4 522,767.4 528,765 534,770.6 540,768.6 547,765 553,768 559,764 565,762.4 571,762.4 577,758 583,755 589,761 596,762.4 602,762.6 608,765 614,773.4 620,772.6 626,771.4 632,780 638,779 644.6,782 651,779 657,769 663,766.6 669,780 675,788.6 681,780.6 687,778 693.6,781 699.6,777.6 705.6,784 712,780.4 718,781.6 724,774.6 730,772.6 736,771.6 742.6,764.6 749,773 755,780 761,774.6 767,774.6 773,775.6 779,780.6 785.6,783 791.6,794 797.6,794.4 804,787 810,782 816,779 822,775.4 828,774.4 835,775.6 841,769 847,772 853,773 859,770 865,764 871,749 877,740.6 883,738 890,734.4 896,732.4 902,730 908,729.6 914,745.4 920,742 926,749.4 933,752.4 939,751.4 945,752.6 951,745.6 957,748.6 963,757.4 970,755 976,753 982,748.6 988,741.4 994,740.6 1000,737.6 1006,733.6 1012,731.4 1018,737 1025,732.6 1031,731.4 1037,729.6 1043,740 1049,735.4 1055,747 1061,741.6 1067,741.6 1074,750.6 1080,747.6 1086,745.4 1092,767 1098,768 1104,769.6 1110,766 1116,764.4 1123,765.4 1129,779.6 1135,771.6 1141,775.4 1147,776 1153,770 1159,773 1165,774.6 1172,765.6 1178,762.4 1184,769.4 1190,764 1196,759 1202,762.4 1208,755.4 1214.6,754.4 1214.6,749.4 11,749.4" fill="url(#gOB)" clip-path="url(#cOB)"/>
<polygon points="11,802.4 19,797.6 26,795 32,780.6 37,779 44,780.6 50,777 56,765.6 62,762.6 69,764.6 75,765 81,766.6 87,775.6 93,783.6 99,781 105,781.6 110.6,778.6 118,786 124,788.6 130,786 136,775 142,767.6 148,769 154,769.6 160,779.6 167,775 173,782 179,792 185,803 191,807 197,812 203,816.4 209,817.6 215,818 221,818.6 228,806 234,787 240,787.4 246,779 252,781.6 258,757 265,763 271,762 277,755 282.6,748.6 288.6,747 295,751.6 301,752.6 308,750 314,749 320,744.4 326,750.6 332,756.6 338,757.4 344,756.4 350,754.4 357,763 363,767.6 369,776.6 375,773 381,781.4 387,778 393,771 399,772.6 406,764.4 412,764.6 418,766.6 424,759 430,763.4 436,762.4 442,759 448,755 454.6,747.4 460.6,746.4 466.6,751.6 472.6,743 478.6,763.6 485,767.6 491,765.6 497,765 504,774 510,782.4 516,783.4 522,767.4 528,765 534,770.6 540,768.6 547,765 553,768 559,764 565,762.4 571,762.4 577,758 583,755 589,761 596,762.4 602,762.6 608,765 614,773.4 620,772.6 626,771.4 632,780 638,779 644.6,782 651,779 657,769 663,766.6 669,780 675,788.6 681,780.6 687,778 693.6,781 699.6,777.6 705.6,784 712,780.4 718,781.6 724,774.6 730,772.6 736,771.6 742.6,764.6 749,773 755,780 761,774.6 767,774.6 773,775.6 779,780.6 785.6,783 791.6,794 797.6,794.4 804,787 810,782 816,779 822,775.4 828,774.4 835,775.6 841,769 847,772 853,773 859,770 865,764 871,749 877,740.6 883,738 890,734.4 896,732.4 902,730 908,729.6 914,745.4 920,742 926,749.4 933,752.4 939,751.4 945,752.6 951,745.6 957,748.6 963,757.4 970,755 976,753 982,748.6 988,741.4 994,740.6 1000,737.6 1006,733.6 1012,731.4 1018,737 1025,732.6 1031,731.4 1037,729.6 1043,740 1049,735.4 1055,747 1061,741.6 1067,741.6 1074,750.6 1080,747.6 1086,745.4 1092,767 1098,768 1104,769.6 1110,766 1116,764.4 1123,765.4 1129,779.6 1135,771.6 1141,775.4 1147,776 1153,770 1159,773 1165,774.6 1172,765.6 1178,762.4 1184,769.4 1190,764 1196,759 1202,762.4 1208,755.4 1214.6,754.4 1214.6,803 11,803" fill="url(#gOS)" clip-path="url(#cOS)"/>
<path d="M11,790 C12.5,790.43 16.83,792.03 20,792.6 C23.17,793.17 26.67,793.33 30,793.4 C33.33,793.47 36.67,793.33 40,793 C43.33,792.67 46.67,792.23 50,791.4 C53.33,790.57 56.67,789.07 60,788 C63.33,786.93 66.67,786 70,785 C73.33,784 76.67,783.07 80,782 C83.33,780.93 86.67,779.6 90,778.6 C93.33,777.6 96.67,776.7 100,776 C103.33,775.3 106.67,774.57 110,774.4 C113.33,774.23 116.67,774.8 120,775 C123.33,775.2 126.67,775.43 130,775.6 C133.33,775.77 136.67,775.83 140,776 C143.33,776.17 146.67,776.33 150,776.6 C153.33,776.87 156.67,777.27 160,777.6 C163.33,777.93 166.67,778.2 170,778.6 C173.33,779 176.67,779.27 180,780 C183.33,780.73 186.67,781.9 190,783 C193.33,784.1 196.67,785.43 200,786.6 C203.33,787.77 206.67,788.83 210,790 C213.33,791.17 216.67,792.33 220,793.6 C223.33,794.87 226.67,796.53 230,797.6 C233.33,798.67 236.33,799.53 240,800 C243.67,800.47 248,800.9 252,800.4 C256,799.9 260,798.63 264,797 C268,795.37 272,793.27 276,790.6 C280,787.93 284,784.18 288,781 C292,777.82 296.33,774.4 300,771.5 C303.67,768.6 306.67,765.85 310,763.6 C313.33,761.35 316.67,759.53 320,758 C323.33,756.47 326.67,755.23 330,754.4 C333.33,753.57 336.67,753.33 340,753 C343.33,752.67 346.67,752.4 350,752.4 C353.33,752.4 356.67,752.4 360,753 C363.33,753.6 366.67,754.93 370,756 C373.33,757.07 376.67,758.33 380,759.4 C383.33,760.47 386.67,761.47 390,762.4 C393.33,763.33 396.67,764.3 400,765 C403.33,765.7 406.67,766.17 410,766.6 C413.33,767.03 416.67,767.3 420,767.6 C423.33,767.9 426.67,768.23 430,768.4 C433.33,768.57 436.67,768.83 440,768.6 C443.33,768.37 446.67,767.77 450,767 C453.33,766.23 456.67,765.17 460,764 C463.33,762.83 466.67,760.93 470,760 C473.33,759.07 476.67,758.67 480,758.4 C483.33,758.13 486.67,758.37 490,758.4 C493.33,758.43 496.67,758.17 500,758.6 C503.33,759.03 506.67,760.37 510,761 C513.33,761.63 516.67,762.07 520,762.4 C523.33,762.73 526.67,762.57 530,763 C533.33,763.43 536.67,764.33 540,765 C543.33,765.67 546.67,766.33 550,767 C553.33,767.67 556.67,768.67 560,769 C563.33,769.33 566.67,769.13 570,769 C573.33,768.87 576.67,768.67 580,768.2 C583.33,767.73 586.67,766.97 590,766.2 C593.33,765.43 596.67,764.07 600,763.6 C603.33,763.13 606.67,763.33 610,763.4 C613.33,763.47 616.67,763.73 620,764 C623.33,764.27 626.67,764.57 630,765 C633.33,765.43 636.67,766.03 640,766.6 C643.33,767.17 646.67,767.83 650,768.4 C653.33,768.97 656.67,769.3 660,770 C663.33,770.7 666.67,771.77 670,772.6 C673.33,773.43 676.67,774.33 680,775 C683.33,775.67 686.67,776.1 690,776.6 C693.33,777.1 696.67,777.53 700,778 C703.33,778.47 706.67,779.17 710,779.4 C713.33,779.63 716.67,779.53 720,779.4 C723.33,779.27 726.67,778.9 730,778.6 C733.33,778.3 736.67,777.77 740,777.6 C743.33,777.43 746.67,777.7 750,777.6 C753.33,777.5 756.67,777.27 760,777 C763.33,776.73 766.67,776.1 770,776 C773.33,775.9 776.67,776.17 780,776.4 C783.33,776.63 786.67,777.07 790,777.4 C793.33,777.73 796.67,778.07 800,778.4 C803.33,778.73 806.67,779.13 810,779.4 C813.33,779.67 816.67,779.8 820,780 C823.33,780.2 826.67,780.53 830,780.6 C833.33,780.67 836.67,780.57 840,780.4 C843.33,780.23 846.67,779.83 850,779.6 C853.33,779.37 856.67,779.6 860,779 C863.33,778.4 866.67,777.5 870,776 C873.33,774.5 876.67,772 880,770 C883.33,768 886.67,766 890,764 C893.33,762 896.67,759.83 900,758 C903.33,756.17 906.67,754.4 910,753 C913.33,751.6 916.67,750.67 920,749.6 C923.33,748.53 926.67,747.47 930,746.6 C933.33,745.73 936.67,745.1 940,744.4 C943.33,743.7 947,742.73 950,742.4 C953,742.07 954.67,741.97 958,742.4 C961.33,742.83 966.33,744.23 970,745 C973.67,745.77 976.67,746.4 980,747 C983.33,747.6 986.67,748.37 990,748.6 C993.33,748.83 996.67,748.77 1000,748.4 C1003.33,748.03 1006.67,747.03 1010,746.4 C1013.33,745.77 1016.67,745.27 1020,744.6 C1023.33,743.93 1026.67,743.07 1030,742.4 C1033.33,741.73 1036.67,741.17 1040,740.6 C1043.33,740.03 1046.67,739.5 1050,739 C1053.33,738.5 1057.17,737.87 1060,737.6 C1062.83,737.33 1064.33,737.33 1067,737.4 C1069.67,737.47 1073,737.73 1076,738 C1079,738.27 1082,738.17 1085,739 C1088,739.83 1090.83,741.67 1094,743 C1097.17,744.33 1100.67,745.73 1104,747 C1107.33,748.27 1110.67,749.37 1114,750.6 C1117.33,751.83 1120.67,753.07 1124,754.4 C1127.33,755.73 1130.67,757.33 1134,758.6 C1137.33,759.87 1140.67,760.87 1144,762 C1147.33,763.13 1151.33,764.4 1154,765.4 C1156.67,766.4 1157.33,767.17 1160,768 C1162.67,768.83 1166.67,770 1170,770.4 C1173.33,770.8 1176.67,770.47 1180,770.4 C1183.33,770.33 1186.67,770.17 1190,770 C1193.33,769.83 1196.67,769.73 1200,769.4 C1203.33,769.07 1207.57,768.4 1210,768 C1212.43,767.6 1213.83,767.17 1214.6,767" fill="none" stroke="#ffeb3b" stroke-width="1.1"/>
<polyline points="11,802.4 19,797.6 26,795 32,780.6 37,779 44,780.6 50,777 56,765.6 62,762.6 69,764.6 75,765 81,766.6 87,775.6 93,783.6 99,781 105,781.6 110.6,778.6 118,786 124,788.6 130,786 136,775 142,767.6 148,769 154,769.6 160,779.6 167,775 173,782 179,792 185,803 191,807 197,812 203,816.4 209,817.6 215,818 221,818.6 228,806 234,787 240,787.4 246,779 252,781.6 258,757 265,763 271,762 277,755 282.6,748.6 288.6,747 295,751.6 301,752.6 308,750 314,749 320,744.4 326,750.6 332,756.6 338,757.4 344,756.4 350,754.4 357,763 363,767.6 369,776.6 375,773 381,781.4 387,778 393,771 399,772.6 406,764.4 412,764.6 418,766.6 424,759 430,763.4 436,762.4 442,759 448,755 454.6,747.4 460.6,746.4 466.6,751.6 472.6,743 478.6,763.6 485,767.6 491,765.6 497,765 504,774 510,782.4 516,783.4 522,767.4 528,765 534,770.6 540,768.6 547,765 553,768 559,764 565,762.4 571,762.4 577,758 583,755 589,761 596,762.4 602,762.6 608,765 614,773.4 620,772.6 626,771.4 632,780 638,779 644.6,782 651,779 657,769 663,766.6 669,780 675,788.6 681,780.6 687,778 693.6,781 699.6,777.6 705.6,784 712,780.4 718,781.6 724,774.6 730,772.6 736,771.6 742.6,764.6 749,773 755,780 761,774.6 767,774.6 773,775.6 779,780.6 785.6,783 791.6,794 797.6,794.4 804,787 810,782 816,779 822,775.4 828,774.4 835,775.6 841,769 847,772 853,773 859,770 865,764 871,749 877,740.6 883,738 890,734.4 896,732.4 902,730 908,729.6 914,745.4 920,742 926,749.4 933,752.4 939,751.4 945,752.6 951,745.6 957,748.6 963,757.4 970,755 976,753 982,748.6 988,741.4 994,740.6 1000,737.6 1006,733.6 1012,731.4 1018,737 1025,732.6 1031,731.4 1037,729.6 1043,740 1049,735.4 1055,747 1061,741.6 1067,741.6 1074,750.6 1080,747.6 1086,745.4 1092,767 1098,768 1104,769.6 1110,766 1116,764.4 1123,765.4 1129,779.6 1135,771.6 1141,775.4 1147,776 1153,770 1159,773 1165,774.6 1172,765.6 1178,762.4 1184,769.4 1190,764 1196,759 1202,762.4 1208,755.4 1214.6,754.4" fill="none" stroke="#7e57c2" stroke-width="1.1" stroke-linejoin="round" stroke-linecap="round"/>
<text x="18.4" y="737.6" font-size="12" font-weight="normal" fill="#434651" text-anchor="start" textLength="14.6" lengthAdjust="spacingAndGlyphs">RSI</text>
<text x="41.6" y="737.6" font-size="12" font-weight="normal" fill="#7e57c2" text-anchor="start" textLength="28.8" lengthAdjust="spacingAndGlyphs">66.14</text>
<text x="78.4" y="737.6" font-size="12" font-weight="normal" fill="#fdd835" text-anchor="start" textLength="29.2" lengthAdjust="spacingAndGlyphs">57.04</text>
<text x="114.9" y="738.1" font-size="11.5" font-weight="normal" fill="#50535e" text-anchor="start" textLength="8" lengthAdjust="spacingAndGlyphs" font-family="'DejaVu Sans', sans-serif">∅</text>
<text x="129.9" y="738.1" font-size="11.5" font-weight="normal" fill="#50535e" text-anchor="start" textLength="8" lengthAdjust="spacingAndGlyphs" font-family="'DejaVu Sans', sans-serif">∅</text>
<text x="145.7" y="738.1" font-size="11.5" font-weight="normal" fill="#50535e" text-anchor="start" textLength="8" lengthAdjust="spacingAndGlyphs" font-family="'DejaVu Sans', sans-serif">∅</text>
<text x="160.5" y="738.1" font-size="11.5" font-weight="normal" fill="#50535e" text-anchor="start" textLength="8" lengthAdjust="spacingAndGlyphs" font-family="'DejaVu Sans', sans-serif">∅</text>
<rect x="10" y="718" width="1478" height="1" fill="#e0e3eb"/>
<rect x="1425" y="27" width="1" height="691" fill="#2a2e39"/>
<rect x="1425" y="719" width="1" height="137" fill="#2a2e39"/>
<rect x="10" y="828" width="1478" height="1" fill="#2a2e39"/>
<rect x="1428.8" y="30.8" width="56.2" height="26.2" rx="4" fill="#fff" stroke="#e0e3eb" stroke-width="1.3"/>
<text x="1438.3" y="48.6" font-size="12" font-weight="normal" fill="#131722" text-anchor="start" textLength="20.2" lengthAdjust="spacingAndGlyphs">USD</text>
<text x="1433.3" y="77.54" font-size="12" font-weight="normal" fill="#50535e" text-anchor="start" textLength="41.5" lengthAdjust="spacingAndGlyphs">2520.00</text>
<text x="1433.3" y="112.95" font-size="12" font-weight="normal" fill="#50535e" text-anchor="start" textLength="41.5" lengthAdjust="spacingAndGlyphs">2480.00</text>
<text x="1433.3" y="219.2" font-size="12" font-weight="normal" fill="#50535e" text-anchor="start" textLength="41.5" lengthAdjust="spacingAndGlyphs">2360.00</text>
<text x="1433.3" y="325.45" font-size="12" font-weight="normal" fill="#50535e" text-anchor="start" textLength="41.5" lengthAdjust="spacingAndGlyphs">2240.00</text>
<text x="1433.3" y="360.86" font-size="12" font-weight="normal" fill="#50535e" text-anchor="start" textLength="41.5" lengthAdjust="spacingAndGlyphs">2200.00</text>
<text x="1433.3" y="396.28" font-size="12" font-weight="normal" fill="#50535e" text-anchor="start" textLength="41.5" lengthAdjust="spacingAndGlyphs">2160.00</text>
<text x="1433.3" y="431.7" font-size="12" font-weight="normal" fill="#50535e" text-anchor="start" textLength="41.5" lengthAdjust="spacingAndGlyphs">2120.00</text>
<text x="1433.3" y="537.94" font-size="12" font-weight="normal" fill="#50535e" text-anchor="start" textLength="41.5" lengthAdjust="spacingAndGlyphs">2000.00</text>
<text x="1433.3" y="573.36" font-size="12" font-weight="normal" fill="#50535e" text-anchor="start" textLength="41.5" lengthAdjust="spacingAndGlyphs">1960.00</text>
<text x="1433.3" y="608.78" font-size="12" font-weight="normal" fill="#50535e" text-anchor="start" textLength="41.5" lengthAdjust="spacingAndGlyphs">1920.00</text>
<text x="1433.3" y="644.19" font-size="12" font-weight="normal" fill="#50535e" text-anchor="start" textLength="41.5" lengthAdjust="spacingAndGlyphs">1880.00</text>
<text x="1433.3" y="679.61" font-size="12" font-weight="normal" fill="#50535e" text-anchor="start" textLength="41.5" lengthAdjust="spacingAndGlyphs">1840.00</text>
<text x="1433.3" y="746.6" font-size="12" font-weight="normal" fill="#50535e" text-anchor="start" textLength="29.4" lengthAdjust="spacingAndGlyphs">75.00</text>
<text x="1433.3" y="814.6" font-size="12" font-weight="normal" fill="#50535e" text-anchor="start" textLength="29.4" lengthAdjust="spacingAndGlyphs">25.00</text>
<path d="M1425.4,83.2 H1479 a2,2 0 0 1 2,2 V97.8 a2,2 0 0 1 -2,2 H1425.4 Z" fill="#2962ff"/>
<text x="1433.3" y="95.7" font-size="12" font-weight="bold" fill="#fff" text-anchor="start" textLength="41.5" lengthAdjust="spacingAndGlyphs">2500.00</text>
<path d="M1425.4,137.9 H1479 a2,2 0 0 1 2,2 V152.7 a2,2 0 0 1 -2,2 H1425.4 Z" fill="#000"/>
<text x="1433.3" y="150.5" font-size="12" font-weight="bold" fill="#fff" text-anchor="start" textLength="41.5" lengthAdjust="spacingAndGlyphs">2431.78</text>
<path d="M1425.4,154.9 H1483 a2,2 0 0 1 2,2 V184 a2,2 0 0 1 -2,2 H1425.4 Z" fill="#26a69a"/>
<text x="1433.3" y="168.1" font-size="12" font-weight="bold" fill="#fff" text-anchor="start" textLength="41.5" lengthAdjust="spacingAndGlyphs">2418.85</text>
<text x="1433.3" y="181.8" font-size="12" font-weight="normal" fill="#d4edea" text-anchor="start" textLength="44.5" lengthAdjust="spacingAndGlyphs">08:30:20</text>
<path d="M1374.2,155 H1424 V171.8 H1374.2 a2,2 0 0 1 -2,-2 V157 a2,2 0 0 1 2,-2 Z" fill="#26a69a"/>
<text x="1376.5" y="167.6" font-size="12" font-weight="normal" fill="#fff" text-anchor="start" textLength="42.6" lengthAdjust="spacingAndGlyphs" stroke="#fff" stroke-width="0.65" stroke-linejoin="round">XAUUSD</text>
<path d="M1425.4,243 H1479 a2,2 0 0 1 2,2 V257.8 a2,2 0 0 1 -2,2 H1425.4 Z" fill="#131722"/>
<text x="1433.3" y="255.6" font-size="12" font-weight="bold" fill="#fff" text-anchor="start" textLength="41.5" lengthAdjust="spacingAndGlyphs">2319.49</text>
<path d="M1425.4,265 H1479 a2,2 0 0 1 2,2 V280 a2,2 0 0 1 -2,2 H1425.4 Z" fill="#2b2bff"/>
<text x="1433.3" y="277.7" font-size="12" font-weight="bold" fill="#fff" text-anchor="start" textLength="41.5" lengthAdjust="spacingAndGlyphs">2294.24</text>
<path d="M1375,265 H1424 V281.8 H1375 a2,2 0 0 1 -2,-2 V267 a2,2 0 0 1 2,-2 Z" fill="#2b2bff"/>
<text x="1377.8" y="277.6" font-size="12" font-weight="bold" fill="#fff" text-anchor="start" textLength="41.3" lengthAdjust="spacingAndGlyphs">SMA:MA</text>
<path d="M1425.4,282.5 H1479 a2,2 0 0 1 2,2 V296.6 a2,2 0 0 1 -2,2 H1425.4 Z" fill="#131722"/>
<text x="1433.3" y="294.75" font-size="12" font-weight="bold" fill="#fff" text-anchor="start" textLength="41.5" lengthAdjust="spacingAndGlyphs">2277.37</text>
<path d="M1425.4,328.2 H1479 a2,2 0 0 1 2,2 V342.8 a2,2 0 0 1 -2,2 H1425.4 Z" fill="#000"/>
<text x="1433.3" y="340.7" font-size="12" font-weight="bold" fill="#fff" text-anchor="start" textLength="41.5" lengthAdjust="spacingAndGlyphs">2222.91</text>
<path d="M1425.4,395.2 H1479 a2,2 0 0 1 2,2 V409.8 a2,2 0 0 1 -2,2 H1425.4 Z" fill="#000"/>
<text x="1433.3" y="407.7" font-size="12" font-weight="bold" fill="#fff" text-anchor="start" textLength="41.5" lengthAdjust="spacingAndGlyphs">2146.79</text>
<path d="M1425.4,452.1 H1479 a2,2 0 0 1 2,2 V466.9 a2,2 0 0 1 -2,2 H1425.4 Z" fill="#131722"/>
<text x="1433.3" y="464.7" font-size="12" font-weight="bold" fill="#fff" text-anchor="start" textLength="41.5" lengthAdjust="spacingAndGlyphs">2082.26</text>
<path d="M1425.4,468.7 H1479 a2,2 0 0 1 2,2 V483.6 a2,2 0 0 1 -2,2 H1425.4 Z" fill="#131722"/>
<text x="1433.3" y="481.35" font-size="12" font-weight="bold" fill="#fff" text-anchor="start" textLength="41.5" lengthAdjust="spacingAndGlyphs">2081.82</text>
<path d="M1425.4,486.5 H1479 a2,2 0 0 1 2,2 V500.9 a2,2 0 0 1 -2,2 H1425.4 Z" fill="#f23645"/>
<text x="1433.3" y="498.9" font-size="12" font-weight="bold" fill="#fff" text-anchor="start" textLength="41.5" lengthAdjust="spacingAndGlyphs">2063.04</text>
<path d="M1375,486.5 H1424 V502.9 H1375 a2,2 0 0 1 -2,-2 V488.5 a2,2 0 0 1 2,-2 Z" fill="#f23645"/>
<text x="1377.8" y="498.9" font-size="12" font-weight="bold" fill="#fff" text-anchor="start" textLength="41.3" lengthAdjust="spacingAndGlyphs">SMA:MA</text>
<path d="M1425.4,539.2 H1479 a2,2 0 0 1 2,2 V553.8 a2,2 0 0 1 -2,2 H1425.4 Z" fill="#f23645"/>
<text x="1433.3" y="551.7" font-size="12" font-weight="bold" fill="#fff" text-anchor="start" textLength="41.5" lengthAdjust="spacingAndGlyphs">1984.16</text>
<path d="M1425.4,581.9 H1479 a2,2 0 0 1 2,2 V596.7 a2,2 0 0 1 -2,2 H1425.4 Z" fill="#f23645"/>
<text x="1433.3" y="594.5" font-size="12" font-weight="bold" fill="#fff" text-anchor="start" textLength="41.5" lengthAdjust="spacingAndGlyphs">1936.04</text>
<path d="M1425.4,636.3 H1479 a2,2 0 0 1 2,2 V650.9 a2,2 0 0 1 -2,2 H1425.4 Z" fill="#000"/>
<text x="1433.3" y="648.8" font-size="12" font-weight="bold" fill="#fff" text-anchor="start" textLength="41.5" lengthAdjust="spacingAndGlyphs">1875.00</text>
<path d="M1425.4,702 H1479 a2,2 0 0 1 2,2 V716 a2,2 0 0 1 -2,2 H1425.4 Z" fill="#9c27b0"/>
<text x="1433.3" y="714.2" font-size="12" font-weight="bold" fill="#fff" text-anchor="start" textLength="41.5" lengthAdjust="spacingAndGlyphs">1800.00</text>
<path d="M1425.4,747 H1465.5 a2,2 0 0 1 2,2 V761.6 a2,2 0 0 1 -2,2 H1425.4 Z" fill="#7e57c2"/>
<text x="1433.3" y="759.5" font-size="12" font-weight="bold" fill="#fff" text-anchor="start" textLength="29.4" lengthAdjust="spacingAndGlyphs">66.14</text>
<path d="M1400,747 H1424 V763.6 H1400 a2,2 0 0 1 -2,-2 V749 a2,2 0 0 1 2,-2 Z" fill="#7e57c2"/>
<text x="1403" y="759.5" font-size="12" font-weight="bold" fill="#fff" text-anchor="start" textLength="15.6" lengthAdjust="spacingAndGlyphs">RSI</text>
<path d="M1425.4,764.4 H1465.5 a2,2 0 0 1 2,2 V778.7 a2,2 0 0 1 -2,2 H1425.4 Z" fill="#ffeb3b"/>
<text x="1433.3" y="776.75" font-size="12" font-weight="normal" fill="#131722" text-anchor="start" textLength="29.4" lengthAdjust="spacingAndGlyphs">57.04</text>
<path d="M1346,764.4 H1424 V780.7 H1346 a2,2 0 0 1 -2,-2 V766.4 a2,2 0 0 1 2,-2 Z" fill="#ffeb3b"/>
<text x="1348.6" y="776.75" font-size="12" font-weight="normal" fill="#131722" text-anchor="start" textLength="70" lengthAdjust="spacingAndGlyphs">RSI-based MA</text>
<text x="65.1" y="845.7" font-size="12" font-weight="normal" fill="#2a2e39" text-anchor="start" textLength="19" lengthAdjust="spacingAndGlyphs">Sep</text>
<text x="194" y="845.7" font-size="12" font-weight="normal" fill="#2a2e39" text-anchor="start" textLength="19" lengthAdjust="spacingAndGlyphs">Oct</text>
<text x="327.5" y="845.7" font-size="12" font-weight="normal" fill="#2a2e39" text-anchor="start" textLength="20" lengthAdjust="spacingAndGlyphs">Nov</text>
<text x="462.5" y="845.7" font-size="12" font-weight="normal" fill="#2a2e39" text-anchor="start" textLength="20" lengthAdjust="spacingAndGlyphs">Dec</text>
<text x="587.55" y="845.7" font-size="12" font-weight="bold" fill="#2a2e39" text-anchor="start" textLength="28.5" lengthAdjust="spacingAndGlyphs">2024</text>
<text x="732.5" y="845.7" font-size="12" font-weight="normal" fill="#2a2e39" text-anchor="start" textLength="20" lengthAdjust="spacingAndGlyphs">Feb</text>
<text x="861.25" y="845.7" font-size="12" font-weight="normal" fill="#2a2e39" text-anchor="start" textLength="19.5" lengthAdjust="spacingAndGlyphs">Mar</text>
<text x="990.75" y="845.7" font-size="12" font-weight="normal" fill="#2a2e39" text-anchor="start" textLength="18.5" lengthAdjust="spacingAndGlyphs">Apr</text>
<text x="1124" y="845.7" font-size="12" font-weight="normal" fill="#2a2e39" text-anchor="start" textLength="21" lengthAdjust="spacingAndGlyphs">May</text>
<text x="1265" y="845.7" font-size="12" font-weight="normal" fill="#2a2e39" text-anchor="start" textLength="19" lengthAdjust="spacingAndGlyphs">Jun</text>
<text x="1392" y="845.7" font-size="12" font-weight="normal" fill="#2a2e39" text-anchor="start" textLength="14" lengthAdjust="spacingAndGlyphs">Jul</text>
<g fill="#131722"><path d="M10,868.2 H18.1 V877.6 H13.8 V872.1 H10 Z"/><circle cx="21" cy="870.1" r="1.9"/><path d="M24.4,868.2 H29.4 L26.3,877.6 H21.3 Z"/></g>
<text x="33.2" y="877.6" font-size="12.8" font-weight="normal" fill="#131722" text-anchor="start" textLength="70" lengthAdjust="spacingAndGlyphs">TradingView</text>
<filter id="wmsh2" x="-5%" y="-10%" width="110%" height="130%"><feDropShadow dx="1.7" dy="1.7" stdDeviation="0.7" flood-color="#000" flood-opacity="0.6"/></filter>
<g filter="url(#wmsh2)">
<text x="1251" y="849" font-family="'Liberation Sans', 'Noto Sans CJK SC', sans-serif" font-size="58" font-weight="900" fill="#fff" fill-opacity="0.8" transform="translate(1251 849) skewX(-16) translate(-1251 -849)" textLength="233" lengthAdjust="spacingAndGlyphs">海马财经</text>
</g>
<g filter="url(#wmsh2)">
<text x="1264.5" y="885.6" font-size="31" font-weight="bold" font-style="italic" fill="#93a8ff" stroke="#93a8ff" stroke-width="1.4" stroke-linejoin="round" textLength="224" lengthAdjust="spacing">zzrt01.cn</text>
</g>
</svg>
</body>
</html>
